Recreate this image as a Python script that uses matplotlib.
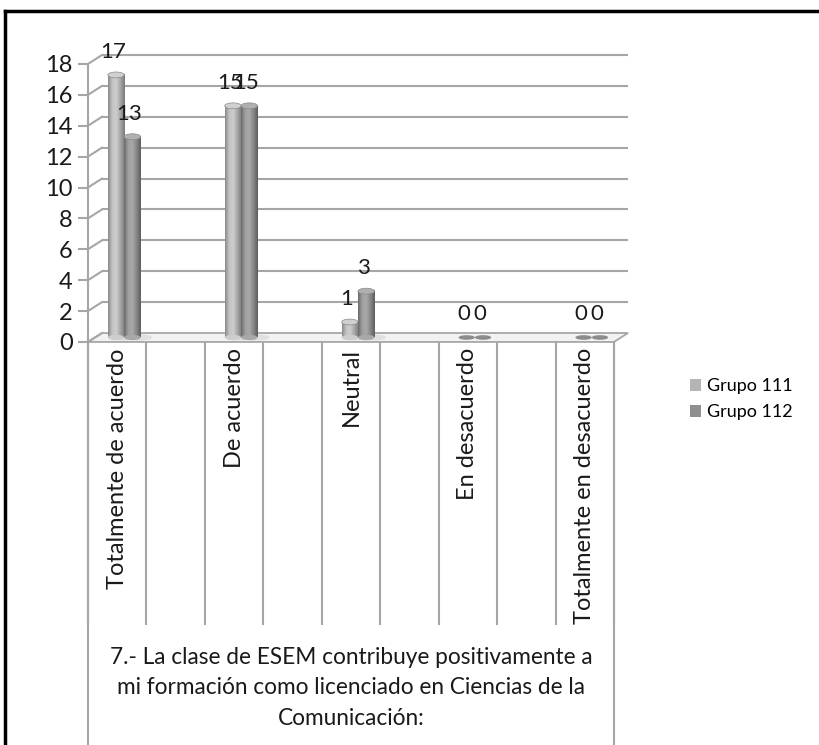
import numpy as np
import matplotlib.pyplot as plt
from matplotlib.colors import LinearSegmentedColormap
from matplotlib.patches import Ellipse, Polygon, Patch

plt.rcParams['font.family'] = ['Lato', 'DejaVu Sans']

# -----
# DATA
# -----
categories = ["Totalmente de acuerdo", "De acuerdo", "Neutral",
              "En desacuerdo", "Totalmente en desacuerdo"]
grupo_111 = [17, 15, 1, 0, 0]
grupo_112 = [13, 15, 3, 0, 0]
series_names = ["Grupo 111", "Grupo 112"]
y_ticks = list(range(0, 19, 2))
question = ("7.- La clase de ESEM contribuye positivamente a\n"
            "mi formación como licenciado en Ciencias de la\n"
            "Comunicación:")

W, H = 820, 745
fig = plt.figure(figsize=(W / 100, H / 100), dpi=100)

# 3d-like offsets (slot units / value units)
n_slots = 9
dxf, dyf = -0.24, -0.58      # front plane
dxm, dym = -0.12, -0.29      # middle of depth (where bars stand)
bw = 0.28

# back wall axes
ax = fig.add_axes([102 / W, (H - 333) / H, 526 / W, 278 / H])
ax.set_xlim(0, n_slots)
ax.set_ylim(0, 18)
ax.axis("off")

# front axes: only the value axis and category dividers
axf = fig.add_axes([88 / W, (H - 342) / H, 526 / W, 278 / H], zorder=-1)
axf.set_xlim(0, n_slots)
axf.set_ylim(0, 18)
axf.patch.set_alpha(0)
for s in ["top", "right", "bottom"]:
    axf.spines[s].set_visible(False)
axf.spines["left"].set_color("#a6a6a6")
axf.spines["left"].set_linewidth(1.5)
axf.set_xticks([])
axf.set_yticks(y_ticks)
axf.tick_params(axis="y", length=7, width=1.5, color="#a6a6a6",
                labelsize=17, pad=4, labelcolor="#1a1a1a")

grid_c = "#a6a6a6"
# gridlines on back wall and diagonals on side
ax.hlines(y_ticks[1:], 0, n_slots, color=grid_c, lw=1.5, clip_on=False)
for v in y_ticks:
    ax.plot([dxf, 0], [v + dyf, v], color=grid_c, lw=1.5, clip_on=False)

# floor
floor = Polygon([[dxf, dyf], [0, 0], [n_slots, 0], [n_slots + dxf, dyf]],
                closed=True, facecolor="#f2f2f2", edgecolor=grid_c,
                lw=1.3, clip_on=False, zorder=1)
ax.add_patch(floor)

# category dividers below the front axis
axf.vlines(range(0, n_slots + 1), -18.35, 0, color=grid_c, lw=1.5,
           clip_on=False)
axf.vlines([0, n_slots], -28, 0, color=grid_c, lw=1.5, clip_on=False)
for i, cat in enumerate(categories):
    axf.text(2 * i + 0.5, -0.4, cat, rotation=90, ha="center", va="top",
             fontsize=17, color="#1a1a1a")
axf.text(4.5, -19.75, question, ha="center", va="top", fontsize=16.3,
         color="#1a1a1a", linespacing=1.55)

cmap_a = LinearSegmentedColormap.from_list(
    "g111", ["#8a8a8a", "#c4c4c4", "#cdcdcd", "#a4a4a4", "#7a7a7a"])
cmap_b = LinearSegmentedColormap.from_list(
    "g112", ["#6a6a6a", "#a0a0a0", "#a8a8a8", "#868686", "#5e5e5e"])
grad = np.linspace(0, 1, 64).reshape(1, -1)

def cylinder(x_left, v, cmap, top_color):
    base = dym
    cx = x_left + bw / 2
    if v <= 0:
        ax.add_patch(Ellipse((cx, base), bw, 0.3, facecolor="#8c8c8c",
                             edgecolor="none", clip_on=False, zorder=3))
        return
    # soft shadow on the floor
    ax.add_patch(Ellipse((cx + 0.12, base), bw * 1.6, 0.4, facecolor="#d0d0d0",
                         edgecolor="none", alpha=0.5, clip_on=False, zorder=2))
    im = ax.imshow(grad, cmap=cmap, aspect="auto", zorder=3,
                   extent=(x_left, x_left + bw, base, base + v))
    im.set_clip_on(False)
    ax.add_patch(Ellipse((cx, base), bw, 0.35, facecolor=cmap(0.5),
                         edgecolor="none", clip_on=False, zorder=3))
    ax.add_patch(Ellipse((cx, base + v), bw, 0.38, facecolor=top_color,
                         edgecolor="#8a8a8a", lw=0.5, clip_on=False, zorder=4))

for i in range(len(categories)):
    x0 = 2 * i + 0.5 + dxm - bw
    x1 = 2 * i + 0.5 + dxm
    cylinder(x0, grupo_111[i], cmap_a, "#d0d0d0")
    cylinder(x1, grupo_112[i], cmap_b, "#b0b0b0")
    ax.text(x0 + bw / 2 - 0.05, grupo_111[i] + 1.2, str(grupo_111[i]),
            ha="center", va="center", fontsize=16, color="#1a1a1a",
            clip_on=False, zorder=5)
    ax.text(x1 + bw / 2 - 0.05, grupo_112[i] + 1.2, str(grupo_112[i]),
            ha="center", va="center", fontsize=16, color="#1a1a1a",
            clip_on=False, zorder=5)
ax.set_xlim(0, n_slots)
ax.set_ylim(0, 18)

# legend
handles = [Patch(facecolor="#b4b4b4", edgecolor="none"),
           Patch(facecolor="#8f8f8f", edgecolor="none")]
fig.legend(handles, series_names, loc="upper left",
           bbox_to_anchor=(674 / W, 1 - 362 / H), frameon=False,
           fontsize=13, handlelength=0.6, handleheight=0.6,
           handletextpad=0.35, labelspacing=0.55)

# outer border (top and left visible)
fig.add_artist(plt.Line2D([5 / W, 5 / W], [0, 1 - 11 / H], color="black",
                          lw=2.5, transform=fig.transFigure))
fig.add_artist(plt.Line2D([5 / W, 1], [1 - 11 / H, 1 - 11 / H], color="black",
                          lw=2.5, transform=fig.transFigure))

fig.savefig("out.png", dpi=100, facecolor="white")
